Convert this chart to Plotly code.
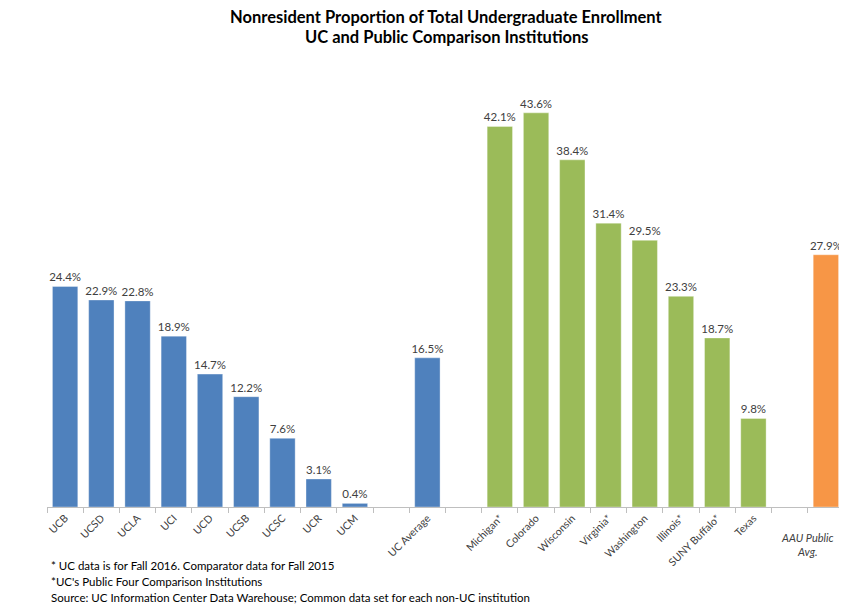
import plotly.graph_objects as go

uc_names = ["UCB", "UCSD", "UCLA", "UCI", "UCD", "UCSB", "UCSC", "UCR", "UCM"]
uc_values = [24.4, 22.9, 22.8, 18.9, 14.7, 12.2, 7.6, 3.1, 0.4]
uc_avg_name = "UC Average"
uc_avg_value = 16.5
comp_names = ["Michigan*", "Colorado", "Wisconsin", "Virginia*", "Washington",
              "Illinois*", "SUNY Buffalo*", "Texas"]
comp_values = [42.1, 43.6, 38.4, 31.4, 29.5, 23.3, 18.7, 9.8]
aau_name = "AAU Public Avg."
aau_value = 27.9

BLUE, GREEN, ORANGE = "#4F81BD", "#9BBB59", "#F79646"

cats, vals, cols, ticktext = [], [], [], []
def add(name, v, c, label):
    cats.append(name); vals.append(v); cols.append(c); ticktext.append(label)

for n, v in zip(uc_names, uc_values):
    add(n, v, BLUE, n)
add("gap1", None, BLUE, "")
add(uc_avg_name, uc_avg_value, BLUE, uc_avg_name)
add("gap2", None, BLUE, "")
for n, v in zip(comp_names, comp_values):
    add(n, v, GREEN, n)
add("gap3", None, BLUE, "")
add(aau_name, aau_value, ORANGE, "")

FONT = "Lato, 'Open Sans', sans-serif"

# page body has an 8px margin; figure is sized to fill the rest of the window
OFF = 8
W, H = 847 - OFF, 605 - OFF
ML, MR, MT, MB = 38.5, 3, 47, 98
PH = H - MT - MB

def px(pagex):
    return (pagex - OFF) / W

def py(pagey):
    return (H - MB - (pagey - OFF)) / PH

fig = go.Figure(go.Bar(
    x=cats, y=vals,
    marker=dict(color=cols, line=dict(color="rgba(255,255,255,0.35)", width=1)),
    texttemplate="%{y:.1f}%", textposition="outside", cliponaxis=False,
    constraintext="none",
    textfont=dict(size=11.5, color="#404040", family=FONT),
    width=0.7,
))

fig.update_layout(
    width=W, height=H,
    margin=dict(l=ML, r=MR, t=MT, b=MB, autoexpand=False),
    paper_bgcolor="white", plot_bgcolor="white",
    showlegend=False,
    font=dict(family=FONT, color="#404040"),
    xaxis=dict(
        type="category", categoryorder="array", categoryarray=cats,
        tickvals=cats, ticktext=ticktext, tickangle=-45,
        tickson="boundaries", ticks="outside", ticklen=5, tickcolor="#BFBFBF",
        showline=True, linecolor="#BFBFBF", linewidth=1,
        showgrid=False, tickfont=dict(size=10.5, color="#404040", family=FONT),
        range=[-0.5, len(cats) - 0.5], automargin=False,
    ),
    yaxis=dict(range=[0, 50], visible=False, showgrid=False, zeroline=False,
               automargin=False),
)

titles = ["<b>Nonresident Proportion of Total Undergraduate Enrollment</b>",
          "<b>UC and Public Comparison Institutions</b>"]
for i, t in enumerate(titles):
    fig.add_annotation(
        x=px(429), xref="paper", xanchor="center",
        y=py(17 + i * 20), yref="paper", yanchor="middle",
        text=t, showarrow=False, borderpad=0,
        font=dict(size=16.5, color="#000000", family=FONT),
    )

fig.add_annotation(
    x=aau_name, xref="x", y=0, yref="paper", yshift=-22, xshift=10,
    xanchor="right",
    text="<i>AAU Public<br>Avg.</i>", showarrow=False, yanchor="top",
    font=dict(size=11, color="#404040", family=FONT), align="center",
)

notes = [
    "* UC data is for Fall 2016. Comparator data for Fall 2015",
    "*UC's Public Four Comparison Institutions",
    "Source: UC Information Center Data Warehouse; Common data set for each non-UC institution",
]
for i, t in enumerate(notes):
    fig.add_annotation(
        x=px(10), xref="paper", xanchor="left",
        y=py(565 + i * 16), yref="paper", yanchor="middle",
        text=t, showarrow=False,
        font=dict(size=11.5, color="#000000", family=FONT), align="left",
    )

fig.write_html("out.html")
